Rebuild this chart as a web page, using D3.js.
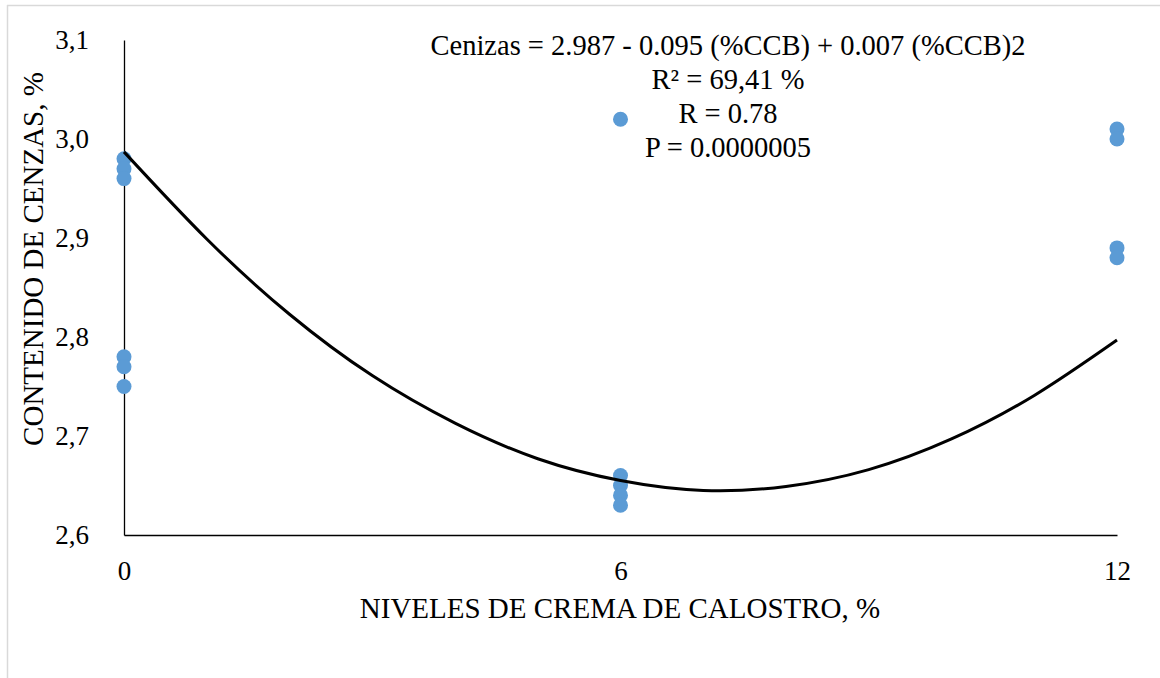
<!DOCTYPE html>
<html>
<head>
<meta charset="utf-8">
<script src="https://cdn.jsdelivr.net/npm/d3@7"></script>
<style>
  html, body { margin: 0; padding: 0; background: #fff; }
  svg { display: block; }
  svg text { font-family: "Liberation Serif", "Times New Roman", Tinos, "DejaVu Serif", serif; }
</style>
</head>
<body>
<svg id="chart" width="1160" height="678"></svg>
<script>
// Observed ash content (%) per level of colostrum cream (%)
const levels = [0, 0, 0, 0, 0, 0, 6, 6, 6, 6, 6, 12, 12, 12, 12];
const ashValues = [2.98, 2.97, 2.96, 2.78, 2.77, 2.75, 3.02, 2.66, 2.65, 2.64, 2.63, 3.01, 3.00, 2.89, 2.88];

// Fitted quadratic trend, sampled at each level
const trendX = [0, 1, 2, 3, 4, 5, 6, 7, 8, 9, 10, 11, 12];
const trendY = [2.987, 2.899, 2.823, 2.761, 2.713, 2.677, 2.655, 2.645, 2.649, 2.666, 2.697, 2.741, 2.797];

const xTicks = [0, 6, 12];
const yTicks = [2.6, 2.7, 2.8, 2.9, 3.0, 3.1];

const annotationLines = [
  "Cenizas = 2.987 - 0.095 (%CCB) + 0.007 (%CCB)2",
  "R² = 69,41 %",
  "R = 0.78",
  "P = 0.0000005"
];

const FONT = "'Liberation Serif', 'Times New Roman', Tinos, 'DejaVu Serif', serif";
const svg = d3.select("#chart");

// outer frame (top and left edges visible)
svg.append("line").attr("x1", 7).attr("x2", 1160).attr("y1", 5.5).attr("y2", 5.5)
  .attr("stroke", "#d9d9d9").attr("stroke-width", 1.5);
svg.append("line").attr("x1", 7.5).attr("x2", 7.5).attr("y1", 5).attr("y2", 678)
  .attr("stroke", "#d9d9d9").attr("stroke-width", 1.5);

const x = d3.scaleLinear().domain([0, 12]).range([124, 1117]);
const y = d3.scaleLinear().domain([2.6, 3.1]).range([535, 40]);

// axes
const xAxis = d3.axisBottom(x).tickValues(xTicks).tickSize(0).tickPadding(26)
  .tickFormat(d3.format("d"));
const gx = svg.append("g").attr("transform", `translate(0,${y(2.6)})`).call(xAxis)
  .attr("font-family", FONT).attr("font-size", 27);
gx.select(".domain").attr("stroke", "#000").attr("stroke-width", 1.3);
gx.selectAll("text").attr("fill", "#000");

const yAxis = d3.axisLeft(y).tickValues(yTicks).tickSize(0).tickPadding(35)
  .tickFormat(d => d3.format(".1f")(d).replace(".", ","));
const gy = svg.append("g").attr("transform", `translate(${x(0)},0)`).call(yAxis)
  .attr("font-family", FONT).attr("font-size", 27);
gy.select(".domain").attr("stroke", "#000").attr("stroke-width", 1.3);
gy.selectAll("text").attr("fill", "#000");

// axis titles
svg.append("text").attr("x", 620).attr("y", 618).attr("text-anchor", "middle")
  .attr("font-family", FONT).attr("font-size", 29).attr("fill", "#000")
  .text("NIVELES DE CREMA DE CALOSTRO, %");
svg.append("text").attr("transform", "translate(43,259) rotate(-90)")
  .attr("text-anchor", "middle").attr("font-family", FONT).attr("font-size", 29).attr("fill", "#000")
  .text("CONTENIDO DE CENZAS, %");

// data points
svg.append("g").selectAll("circle")
  .data(levels.map((l, i) => ({ l, v: ashValues[i] })))
  .join("circle")
  .attr("cx", d => x(d.l))
  .attr("cy", d => y(d.v))
  .attr("r", 7.5)
  .attr("fill", "#5b9bd5");

// trend curve
const line = d3.line().x(d => x(d[0])).y(d => y(d[1])).curve(d3.curveNatural);
svg.append("path")
  .datum(trendX.map((t, i) => [t, trendY[i]]))
  .attr("d", line)
  .attr("fill", "none")
  .attr("stroke", "#000")
  .attr("stroke-width", 3);

// regression annotation
svg.append("g").selectAll("text")
  .data(annotationLines)
  .join("text")
  .attr("x", 728)
  .attr("y", (d, i) => 55 + i * 34)
  .attr("text-anchor", "middle")
  .attr("font-family", FONT)
  .attr("font-size", 28.5)
  .attr("fill", "#000")
  .text(d => d);
</script>
</body>
</html>
